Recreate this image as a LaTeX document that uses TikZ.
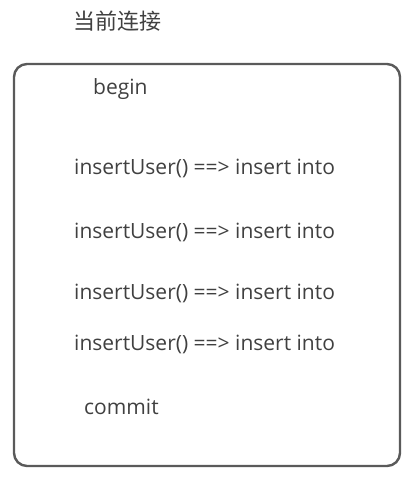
\documentclass[tikz,border=0pt]{standalone}
\usepackage{fontspec}
\setmainfont{Open Sans}
\newfontfamily\cjk{Noto Sans CJK SC}
\definecolor{txt}{HTML}{404040}
\definecolor{frame}{HTML}{5A5A5A}
\begin{document}
\begin{tikzpicture}[x=1pt,y=-1pt,
  lbl/.style={anchor=west,inner sep=0pt,text=txt,font=\fontsize{21}{24}\selectfont},
  ttl/.style={anchor=west,inner sep=0pt,text=txt,font=\cjk\fontsize{22}{26}\selectfont}]
\useasboundingbox (0,0) rectangle (411,477);
\draw[frame,line width=2.4pt,rounded corners=13pt] (14,64) rectangle (400,466);
\node[ttl] (title) at (73,21) {当前连接};
\node[lbl] (begin) at (93,89) {begin};
\node[lbl] (i1) at (74,168) {insertUser() ==> insert into};
\node[lbl] (i2) at (74,232) {insertUser() ==> insert into};
\node[lbl] (i3) at (74,293) {insertUser() ==> insert into};
\node[lbl] (i4) at (74,344) {insertUser() ==> insert into};
\node[lbl] (commit) at (84,407) {commit};
\end{tikzpicture}
\end{document}
